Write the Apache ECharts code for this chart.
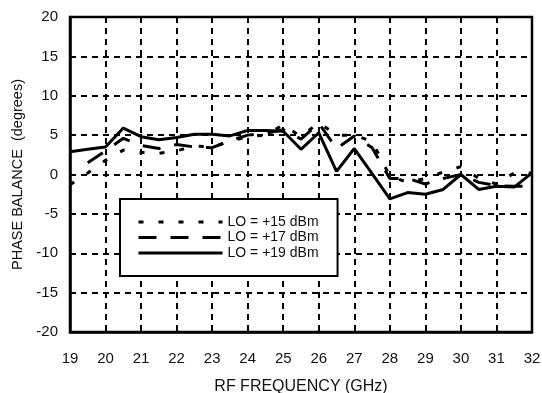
<!DOCTYPE html>
<html>
<head>
<meta charset="utf-8">
<script src="https://cdn.jsdelivr.net/npm/echarts@6/dist/echarts.min.js"></script>
<style>
  html, body { margin: 0; padding: 0; background: #fff; }
  #chart { width: 542px; height: 393px; }
</style>
</head>
<body>
<div id="chart"></div>
<script>
// frequency points (GHz), 0.5 GHz steps
const freqs = [19, 19.5, 20, 20.5, 21, 21.5, 22, 22.5, 23, 23.5, 24, 24.5, 25, 25.5, 26, 26.5, 27, 27.5, 28, 28.5, 29, 29.5, 30, 30.5, 31, 31.5, 32]

// phase balance (degrees) per LO drive level
const lo15 = [-1.3, 0.2, 1.8, 3.1, 2.8, 2.7, 3.0, 3.6, 3.5, 4.2, 4.8, 5.0, 6.3, 4.8, 6.6, 5.0, 5.0, 4.2, -0.2, -1.0, -0.5, 0.3, 1.0, -0.5, -1.2, 0.2, 0.2]
const lo17 = [null, 1.5, 3.0, 4.6, 3.7, 3.3, 3.8, 3.5, 3.4, 4.3, 5.0, 5.2, 5.7, 4.5, 6.5, 3.3, 4.9, 3.4, -0.5, -0.5, -1.2, -0.5, 0.0, -1.0, -1.4, -1.5, -1.5]
const lo19 = [2.9, 3.2, 3.5, 5.9, 4.8, 4.4, 4.7, 5.1, 5.1, 4.9, 5.6, 5.6, 5.5, 3.2, 5.3, 0.4, 3.3, 0.1, -3.1, -2.3, -2.5, -1.9, 0.0, -1.9, -1.5, -1.6, 0.2]

const seriesNames = ['LO = +15 dBm', 'LO = +17 dBm', 'LO = +19 dBm']

const font = 'Helvetica, Arial, "Liberation Sans", sans-serif'
const pair = (ys) => freqs.map((f, i) => [f, ys[i]])
const gridLine = { lineStyle: { color: '#000', width: 2, type: [6, 5] } }

const chart = echarts.init(document.getElementById('chart'))

chart.setOption({
  animation: false,
  backgroundColor: '#fff',
  textStyle: { fontFamily: font, color: '#111' },
  grid: {
    left: 70, right: 10, top: 17, bottom: 61,
    outerBoundsMode: 'none', containLabel: false,
    show: true, borderColor: '#000', borderWidth: 2.5
  },
  legend: {
    orient: 'vertical',
    left: 120, top: 199,
    padding: [16, 19, 16, 17],
    itemWidth: 84, itemHeight: 14, itemGap: 1.5,
    borderColor: '#000', borderWidth: 2,
    backgroundColor: '#fff',
    itemStyle: { opacity: 0 },
    lineStyle: { width: 3 },
    textStyle: { fontFamily: font, fontSize: 14, color: '#111' },
    data: seriesNames
  },
  xAxis: {
    type: 'value', min: 19, max: 32, interval: 1,
    name: 'RF FREQUENCY (GHz)', nameLocation: 'middle', nameGap: 47,
    nameTextStyle: { fontSize: 16, color: '#111', fontFamily: font },
    axisLine: { onZero: false, lineStyle: { color: '#000', width: 2.5 } },
    axisTick: { show: false },
    axisLabel: { fontSize: 15, color: '#111', margin: 19, fontFamily: font },
    splitLine: gridLine
  },
  yAxis: {
    type: 'value', min: -20, max: 20, interval: 5,
    name: 'PHASE BALANCE  (degrees)', nameLocation: 'middle', nameGap: 43,
    nameTextStyle: { fontSize: 14.5, color: '#111', fontFamily: font },
    axisLine: { onZero: false, lineStyle: { color: '#000', width: 2.5 } },
    axisTick: { show: false },
    axisLabel: { fontSize: 15, color: '#111', margin: 12, fontFamily: font },
    splitLine: gridLine
  },
  series: [
    {
      name: seriesNames[0], type: 'line', data: pair(lo15), symbol: 'none',
      lineStyle: { color: '#000', width: 3, type: [5, 15] }, itemStyle: { color: '#000' }, z: 3
    },
    {
      name: seriesNames[1], type: 'line', data: pair(lo17), symbol: 'none',
      lineStyle: { color: '#000', width: 3, type: [18, 14] }, itemStyle: { color: '#000' }, z: 4
    },
    {
      name: seriesNames[2], type: 'line', data: pair(lo19), symbol: 'none',
      lineStyle: { color: '#000', width: 3 }, itemStyle: { color: '#000' }, z: 5
    }
  ]
})
</script>
</body>
</html>
